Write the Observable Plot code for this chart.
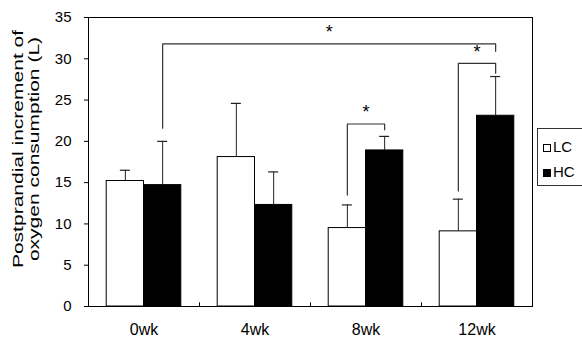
<!DOCTYPE html>
<html><head><meta charset="utf-8">
<script src="https://cdn.jsdelivr.net/npm/d3@7"></script>
<script src="https://cdn.jsdelivr.net/npm/@observablehq/plot@0.6"></script>
<style>
html,body{margin:0;padding:0;background:#fff;overflow:hidden}
#wrap{position:relative;width:582px;height:340px;font-family:Arial,"Liberation Sans",sans-serif;color:#000}
#wrap svg{position:absolute;left:0;top:0}
#ylabel{position:absolute;left:25.5px;top:149px;width:0;height:0}
#ylabel div{position:absolute;left:0;top:0;transform:translate(-50%,-50%) rotate(-90deg) scaleX(1.4);white-space:nowrap;text-align:center;font-size:15px;line-height:16px}
#legend{position:absolute;left:537px;top:128px;width:60px;height:58px;border:1px solid #333;box-sizing:border-box;background:#fff}
#legend .row{position:absolute;left:5px;height:16px;line-height:16px;font-size:15px;white-space:nowrap}
#legend .sw{display:inline-block;width:8px;height:8px;border:1px solid #000;box-sizing:border-box;margin-right:2px;vertical-align:0px}
</style>
</head><body>
<div id="wrap">
  <div id="ylabel"><div>Postprandial increment of<br>oxygen consumption (L)</div></div>
</div>
<script>
// ---- data ----
const categories = ["0wk", "4wk", "8wk", "12wk"];
const groups = ["LC", "HC"];
const lcMean = [15.2, 18.1, 9.5, 9.1];
const lcErr  = [1.3, 6.5, 2.8, 3.9];
const hcMean = [14.7, 12.3, 18.9, 23.1];
const hcErr  = [5.3, 4.0, 1.7, 4.75];
const yTicks = [0, 5, 10, 15, 20, 25, 30, 35];

// significance brackets
const sigFromCat   = ["0wk", "8wk", "12wk"];
const sigFromGroup = ["HC", "LC", "LC"];
const sigToCat     = ["12wk", "8wk", "12wk"];
const sigToGroup   = ["HC", "HC", "HC"];
const sigTop       = [31.8, 22.1, 29.45];
const sigLeftEnd   = [21.6, 13.5, 14.0];
const sigRightEnd  = [30.9, 21.4, 28.25];
const sigLabel     = ["*", "*", "*"];

// ---- layout settings ----
const BW = 0.336;      // bar width in category units
const CAP = 0.045;     // half cap width
const STAR_GAP = 1.4;  // star above bracket
const TICK_LEN = 0.45;

const center = (cat, g) => categories.indexOf(cat) + (g === "LC" ? -BW / 2 : BW / 2);

const rows = [];
categories.forEach((c, i) => {
  groups.forEach(g => {
    const mean = g === "LC" ? lcMean[i] : hcMean[i];
    const err = g === "LC" ? lcErr[i] : hcErr[i];
    rows.push({cat: c, group: g, mean, err,
      x1: g === "LC" ? i - BW : i, x2: g === "LC" ? i : i + BW, xc: center(c, g)});
  });
});

const bracketPts = [];
const stars = [];
sigTop.forEach((top, k) => {
  const xl = center(sigFromCat[k], sigFromGroup[k]);
  const xr = center(sigToCat[k], sigToGroup[k]);
  bracketPts.push({id: k, x: xl, y: sigLeftEnd[k]}, {id: k, x: xl, y: top},
                  {id: k, x: xr, y: top}, {id: k, x: xr, y: sigRightEnd[k]});
  stars.push({x: (xl + xr) / 2, y: top + STAR_GAP, text: sigLabel[k]});
});

const chart = Plot.plot({
  width: 582, height: 340,
  marginLeft: 88, marginRight: 50, marginTop: 17, marginBottom: 34,
  style: {fontFamily: "Arial, 'Liberation Sans', sans-serif", fontSize: "15px", background: "transparent", color: "#000"},
  x: {type: "linear", domain: [-0.5, 3.5]},
  y: {domain: [0, 35]},
  marks: [
    Plot.rect(rows, {x1: "x1", x2: "x2", y1: 0, y2: "mean",
      fill: d => d.group === "LC" ? "white" : "black", stroke: "black", strokeWidth: 1}),
    Plot.ruleX(rows, {x: "xc", y1: "mean", y2: d => d.mean + d.err, stroke: "#222", strokeWidth: 1}),
    Plot.ruleY(rows, {y: d => d.mean + d.err, x1: d => d.xc - CAP, x2: d => d.xc + CAP, stroke: "#222", strokeWidth: 1.2}),
    Plot.line(bracketPts, {x: "x", y: "y", z: "id", stroke: "#333", strokeWidth: 1.2}),
    Plot.text(stars, {x: "x", y: "y", text: "text", fontSize: 18, lineAnchor: "middle"}),
    Plot.ruleX([0.5, 1.5, 2.5], {x: d => d, y1: 0, y2: TICK_LEN, stroke: "black"}),
    Plot.frame({stroke: "black"}),
    Plot.axisY({ticks: yTicks, tickSize: 4, tickPadding: 13, label: null, fontSize: 15}),
    Plot.axisX({ticks: [0, 1, 2, 3], tickFormat: i => categories[i], tickSize: 0, tickPadding: 17, label: null, fontSize: 16})
  ]
});
const wrap = document.getElementById("wrap");
wrap.insertBefore(chart, wrap.firstChild);

// legend
const legend = document.createElement("div");
legend.id = "legend";
const rowTops = [10, 35];
groups.forEach((g, k) => {
  const r = document.createElement("div");
  r.className = "row";
  r.style.top = rowTops[k] + "px";
  const sw = document.createElement("span");
  sw.className = "sw";
  sw.style.background = g === "LC" ? "white" : "black";
  r.appendChild(sw);
  r.appendChild(document.createTextNode(g));
  legend.appendChild(r);
});
wrap.appendChild(legend);
</script>
</body></html>
